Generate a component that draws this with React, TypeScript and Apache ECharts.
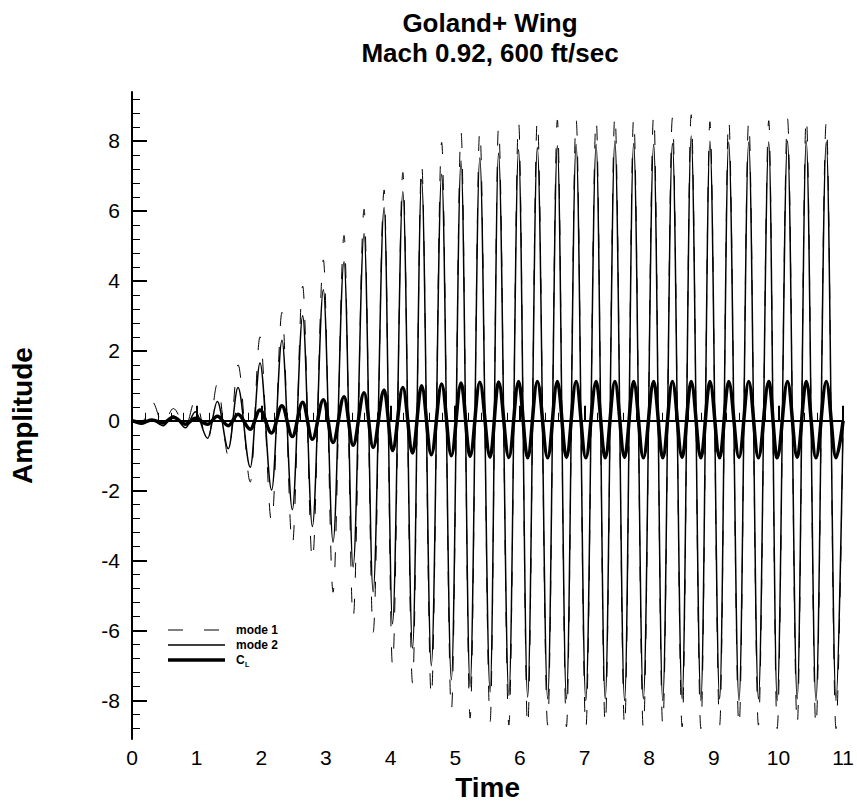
import React, { useEffect, useRef } from "react";
import * as echarts from "echarts";

// Times of the successive peaks and troughs (first and last entries are the record ends)
const extremaTime = [
  0, 0.15, 0.31, 0.48, 0.64, 0.83, 0.98, 1.17, 1.32, 1.49, 1.64, 1.83, 1.98,
  2.16, 2.32, 2.48, 2.64, 2.79, 2.96, 3.11, 3.28, 3.42, 3.59, 3.73, 3.9,
  4.03, 4.19, 4.34, 4.48, 4.63, 4.79, 4.94, 5.09, 5.23, 5.38, 5.54, 5.67,
  5.83, 5.98, 6.12, 6.27, 6.43, 6.58, 6.72, 6.87, 7.02, 7.18, 7.32, 7.47,
  7.62, 7.76, 7.91, 8.07, 8.21, 8.36, 8.51, 8.65, 8.8, 8.94, 9.09, 9.23,
  9.39, 9.54, 9.69, 9.85, 9.98, 10.14, 10.29, 10.43, 10.58, 10.74, 10.89, 11.0,
];

// Generalised coordinate of mode 1 at each extremum
const mode1 = [
  0, -0.05, 0.55, -0.1, 0.35, -0.15, 0.6, -0.6, 1.05, -1.0, 1.6, -1.75, 2.4,
  -2.9, 3.1, -3.55, 3.85, -4.0, 4.6, -4.9, 5.3, -5.65, 6.05, -6.05, 6.6,
  -7.0, 7.1, -7.5, 7.35, -7.9, 7.96, -8.3, 8.25, -8.5, 8.3, -8.6, 8.4,
  -8.7, 8.55, -8.75, 8.6, -8.7, 8.6, -8.75, 8.62, -8.8, 8.62, -8.7, 8.75,
  -8.75, 8.66, -8.8, 8.75, -8.7, 8.66, -8.75, 8.75, -8.8, 8.55, -8.7, 8.62,
  -8.75, 8.58, -8.7, 8.58, -8.8, 8.64, -8.7, 8.68, -8.75, 8.55, -8.8, 0,
];

// Generalised coordinate of mode 2 at each extremum
const mode2 = [
  0, -0.1, 0.03, -0.14, 0.14, -0.2, 0.26, -0.5, 0.55, -0.8, 0.95, -1.33, 1.65,
  -1.98, 2.3, -2.54, 3.0, -3.02, 3.75, -3.47, 4.55, -4.18, 5.35, -4.89, 6.1,
  -5.8, 6.55, -6.5, 6.9, -7.0, 7.05, -7.4, 7.43, -7.6, 7.51, -7.75, 7.65,
  -7.85, 7.75, -7.9, 7.81, -7.95, 7.86, -7.95, 7.9, -8.0, 7.9, -7.95, 8.0,
  -8.0, 7.93, -7.95, 7.9, -8.0, 7.93, -7.95, 8.14, -8.0, 7.99, -7.95, 7.96,
  -8.0, 7.96, -7.95, 7.97, -8.0, 8.0, -7.95, 8.0, -8.0, 7.97, -8.0, 0,
];

// Lift coefficient C_L at each extremum
const liftCoeff = [
  0, -0.05, 0.02, -0.06, 0.1, -0.1, 0.07, -0.1, 0.13, -0.14, 0.19, -0.24, 0.31,
  -0.35, 0.43, -0.45, 0.53, -0.53, 0.6, -0.62, 0.69, -0.7, 0.8, -0.76, 0.88,
  -0.85, 0.95, -0.92, 1.0, -0.97, 1.05, -1.0, 1.08, -1.02, 1.1, -1.04, 1.11,
  -1.05, 1.12, -1.06, 1.12, -1.06, 1.12, -1.05, 1.12, -1.06, 1.12, -1.06, 1.12,
  -1.05, 1.12, -1.06, 1.12, -1.06, 1.12, -1.05, 1.12, -1.06, 1.12, -1.06, 1.12,
  -1.05, 1.12, -1.06, 1.12, -1.06, 1.12, -1.05, 1.12, -1.06, 1.12, -1.06, 0,
];

const seriesNames = ["mode 1", "mode 2", "C_L"];
const titleLines = ["Goland+ Wing", "Mach 0.92, 600 ft/sec"];

const yMajorTicks = [-8, -6, -4, -2, 0, 2, 4, 6, 8];
const yMinorTicks: number[] = [];
for (let k = -22; k <= 23; k++) {
  if (k % 5 !== 0) yMinorTicks.push(Math.round(k * 4) / 10);
}
const xMinorTicks: number[] = [];
for (let k = 1; k < 55; k++) {
  if (k % 5 !== 0) xMinorTicks.push(Math.round(k * 2) / 10);
}

const FONT = '"Liberation Sans", Arial, Helvetica, sans-serif';
const X_MIN = 0;
const X_MAX = 11;
const Y_MIN = -9.1;
const Y_MAX = 9.4;

function pairs(values: number[]) {
  return extremaTime.map((t, i) => [t, values[i]]);
}

export default function App() {
  const ref = useRef<HTMLDivElement>(null);

  useEffect(() => {
    if (!ref.current) return;
    const chart = echarts.init(ref.current, null, { renderer: "svg" });

    const black = "#000";
    const legendX0 = 168;
    const legendX1 = 225;
    const legendTextX = 236;
    const legendRows = [630, 645, 660];

    chart.setOption({
      animation: false,
      backgroundColor: "#fff",
      textStyle: { fontFamily: FONT, color: black },
      grid: { left: 131, right: 9, top: 92, bottom: 59, containLabel: false },
      xAxis: [
        {
          type: "value",
          min: X_MIN,
          max: X_MAX,
          interval: 1,
          position: "bottom",
          axisLine: { show: true, lineStyle: { color: black, width: 2 } },
          axisTick: { show: true, inside: true, length: 15, lineStyle: { color: black, width: 2 } },
          axisLabel: { fontSize: 21, color: black, margin: 8, fontFamily: FONT },
          splitLine: { show: false },
          name: "Time",
          nameLocation: "middle",
          nameGap: 29,
          nameTextStyle: { fontSize: 28, fontWeight: "bold", color: black, fontFamily: FONT },
        },
        {
          type: "value",
          min: X_MIN,
          max: X_MAX,
          position: "bottom",
          axisLine: { show: false },
          axisTick: {
            show: true,
            inside: true,
            length: 8,
            customValues: xMinorTicks,
            lineStyle: { color: black, width: 1 },
          },
          axisLabel: { show: false },
          splitLine: { show: false },
        },
      ],
      yAxis: [
        {
          type: "value",
          min: Y_MIN,
          max: Y_MAX,
          position: "left",
          axisLine: { show: true, lineStyle: { color: black, width: 2 } },
          axisTick: {
            show: true,
            inside: true,
            length: 15,
            customValues: yMajorTicks,
            lineStyle: { color: black, width: 2 },
          },
          axisLabel: {
            customValues: yMajorTicks,
            fontSize: 21,
            color: black,
            margin: 12,
            fontFamily: FONT,
          },
          splitLine: { show: false },
          name: "Amplitude",
          nameLocation: "middle",
          nameRotate: 90,
          nameGap: 96,
          nameTextStyle: { fontSize: 28, fontWeight: "bold", color: black, fontFamily: FONT },
        },
        {
          type: "value",
          min: Y_MIN,
          max: Y_MAX,
          position: "left",
          axisLine: { show: false },
          axisTick: {
            show: true,
            inside: true,
            length: 8,
            customValues: yMinorTicks,
            lineStyle: { color: black, width: 1 },
          },
          axisLabel: { show: false },
          splitLine: { show: false },
        },
      ],
      series: [
        {
          type: "line",
          name: seriesNames[0],
          data: pairs(mode1),
          smooth: 0.35,
          smoothMonotone: "x",
          symbol: "none",
          lineStyle: { color: black, width: 1, type: [15, 21] },
          z: 2,
        },
        {
          type: "line",
          name: seriesNames[1],
          data: pairs(mode2),
          smooth: 0.35,
          smoothMonotone: "x",
          symbol: "none",
          lineStyle: { color: black, width: 1.5 },
          z: 3,
        },
        {
          type: "line",
          name: seriesNames[2],
          data: pairs(liftCoeff),
          smooth: 0.35,
          smoothMonotone: "x",
          symbol: "none",
          lineStyle: { color: black, width: 3.5 },
          z: 4,
        },
      ],
      graphic: [
        // two-line heading
        {
          type: "text",
          x: 490,
          y: 8,
          style: {
            text: titleLines.join("\n"),
            fontSize: 26,
            lineHeight: 30,
            fontWeight: "bold",
            fontFamily: FONT,
            fill: black,
            textAlign: "center",
            textVerticalAlign: "top",
          },
        },
        // key for the three curves
        {
          type: "line",
          shape: { x1: legendX0, y1: legendRows[0], x2: legendX1, y2: legendRows[0] },
          style: { stroke: black, lineWidth: 1, lineDash: [15, 21] },
        },
        {
          type: "line",
          shape: { x1: legendX0, y1: legendRows[1], x2: legendX1, y2: legendRows[1] },
          style: { stroke: black, lineWidth: 1.5 },
        },
        {
          type: "line",
          shape: { x1: legendX0, y1: legendRows[2], x2: legendX1, y2: legendRows[2] },
          style: { stroke: black, lineWidth: 3.5 },
        },
        {
          type: "text",
          x: legendTextX,
          y: legendRows[0],
          style: {
            text: seriesNames[0],
            fontSize: 12,
            fontWeight: "bold",
            fontFamily: FONT,
            fill: black,
            textVerticalAlign: "middle",
          },
        },
        {
          type: "text",
          x: legendTextX,
          y: legendRows[1],
          style: {
            text: seriesNames[1],
            fontSize: 12,
            fontWeight: "bold",
            fontFamily: FONT,
            fill: black,
            textVerticalAlign: "middle",
          },
        },
        {
          type: "text",
          x: legendTextX,
          y: legendRows[2],
          style: {
            text: "C",
            fontSize: 12,
            fontWeight: "bold",
            fontFamily: FONT,
            fill: black,
            textVerticalAlign: "middle",
          },
        },
        {
          type: "text",
          x: legendTextX + 9,
          y: legendRows[2] + 4,
          style: {
            text: "L",
            fontSize: 7,
            fontWeight: "bold",
            fontFamily: FONT,
            fill: black,
            textVerticalAlign: "middle",
          },
        },
      ],
    });

    return () => chart.dispose();
  }, []);

  return (
    <div
      ref={ref}
      style={{ position: "fixed", left: 0, top: 0, width: 857, height: 806, background: "#fff" }}
    />
  );
}
